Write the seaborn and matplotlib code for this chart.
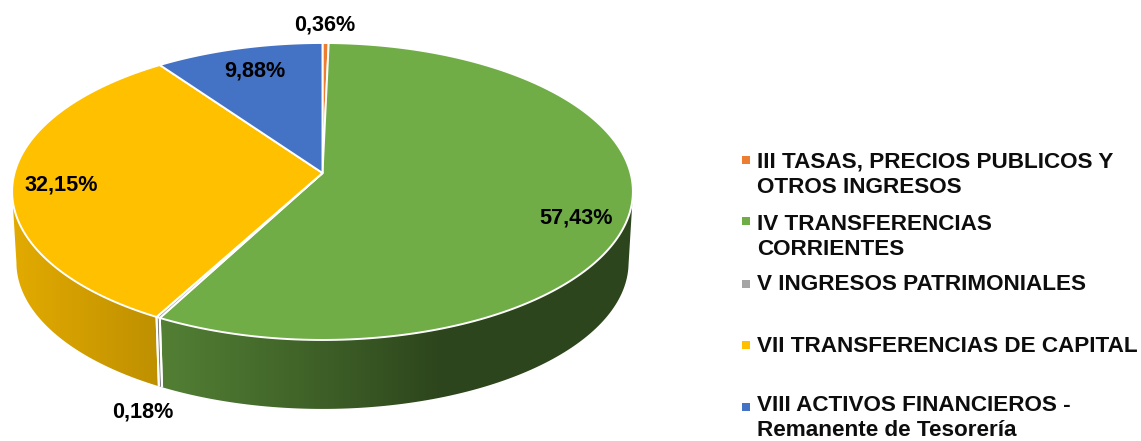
import numpy as np
import matplotlib
matplotlib.use("Agg")
import matplotlib.pyplot as plt
import seaborn as sns
from matplotlib.colors import to_rgb
from matplotlib.path import Path
from matplotlib.patches import Polygon, Rectangle
from matplotlib.transforms import Transform

# ---- data ----
categories = ["III TASAS, PRECIOS PUBLICOS Y\nOTROS INGRESOS",
              "IV TRANSFERENCIAS\nCORRIENTES",
              "V INGRESOS PATRIMONIALES",
              "VII TRANSFERENCIAS DE CAPITAL",
              "VIII ACTIVOS FINANCIEROS -\nRemanente de Tesorería"]
shares = [0.36, 57.43, 0.18, 32.15, 9.88]
colors = ["#ED7D31", "#70AD47", "#A5A5A5", "#FFC000", "#4472C4"]

# ---- layout and style ----
W, H = 1141, 441
CX, CY = 322.5, 173.0
A, B, C = 146.2, 308.0, 0.1244      # perspective of the disc
S, DEPTH = 0.986, 71.3              # lower rim of the disc
label_xy = [(325, 25), (576, 218), (143, 412), (61, 185), (255, 71)]
legend_box_y = [160, 221, 284, 345, 407]
legend_base_y = [193, 255, 290, 352, 436.5]
FONT = "Liberation Sans"
LABEL_FS = 15.6
LEGEND_FS = 16.2


def project(u, v, scale=1.0, drop=0.0):
    d = 1 + C * v
    return CX + scale * B * u / d, CY - scale * A * v / d + drop


class DiscProjection(Transform):
    input_dims = output_dims = 2
    is_affine = False
    has_inverse = False

    def transform_non_affine(self, values):
        values = np.asarray(values, dtype=float)
        x, y = project(values[:, 0], values[:, 1])
        return np.column_stack([x, y])

    def transform_path_non_affine(self, path):
        pts = []
        t = np.linspace(0, 1, 24)
        for curve, code in path.iter_bezier():
            if code == Path.MOVETO:
                pts.append(curve.control_points[:1])
            else:
                pts.append(curve(t))
        return Path(self.transform_non_affine(np.vstack(pts)))


# horizontal shading of the side wall, one (x, brightness) ramp per slice
shade_ramps = {0: ([300, 340], [0.6, 0.6]),
               1: ([160, 340, 440], [0.74, 0.53, 0.40]),
               2: ([150, 170], [0.8, 0.8]),
               3: ([12, 160], [0.89, 0.745]),
               4: ([0, 400], [0.6, 0.6])}

sns.set_theme(style="white")
plt.rcParams["font.family"] = [FONT, "DejaVu Sans"]
palette = sns.color_palette(colors)

fig = plt.figure(figsize=(W / 100, H / 100), dpi=100)
ax = fig.add_axes([0, 0, 1, 1])

wedges, _ = ax.pie(shares, colors=palette, startangle=90, counterclock=False,
                   wedgeprops=dict(edgecolor="white", linewidth=1.4, zorder=5))
projection = DiscProjection()
for w in wedges:
    w.set_transform(projection + ax.transData)

# side wall, derived from the angles of the pie slices
xgrid = np.arange(0, W + 1.0)
for i, w in enumerate(wedges):
    th = np.radians(np.linspace(w.theta1, w.theta2, 200))
    th = th[np.sin(th) <= -C]
    if len(th) < 2:
        continue
    u, v = np.cos(th), np.sin(th)
    xt, yt = project(u, v)
    xb, yb = project(u, v, S, DEPTH)
    outline = np.column_stack([np.r_[xt, xb[::-1]], np.r_[yt, yb[::-1]]])
    clip = Polygon(outline, closed=True, transform=ax.transData)
    ramp = np.interp(xgrid, *shade_ramps[i])
    shade = np.clip(np.array(to_rgb(palette[i]))[None, None, :] * ramp[None, :, None], 0, 1)
    im = ax.imshow(shade, extent=(0, W, H, 0), aspect="auto", zorder=2,
                   interpolation="bilinear")
    im.set_clip_path(clip)

# white seams on the wall at the slice boundaries
for w in wedges:
    for ang in (w.theta1, w.theta2):
        u, v = np.cos(np.radians(ang)), np.sin(np.radians(ang))
        if v < -C:
            xa, ya = project(u, v)
            xc, yc = project(u, v, S, DEPTH)
            ax.plot([xa, xc], [ya, yc], color="white", lw=1.4, zorder=3,
                    solid_capstyle="butt")

ax.set_aspect("auto")
ax.set_xlim(0, W)
ax.set_ylim(H, 0)
ax.axis("off")

# data labels
for val, (lx, ly) in zip(shares, label_xy):
    ax.text(lx, ly, f"{val:.2f}%".replace(".", ","), ha="center", va="center",
            fontsize=LABEL_FS, fontweight="bold", color="black", zorder=6)

# legend
for cat, col, by, ty in zip(categories, palette, legend_box_y, legend_base_y):
    ax.add_patch(Rectangle((742, by - 4), 8, 8, facecolor=col, edgecolor="none", zorder=6))
    ax.text(757, ty, cat, ha="left", va="baseline", fontsize=LEGEND_FS, fontweight="bold",
            color="#0d0d0d", linespacing=1.28, zorder=6)

fig.savefig("out.png", dpi=100, facecolor="white")
